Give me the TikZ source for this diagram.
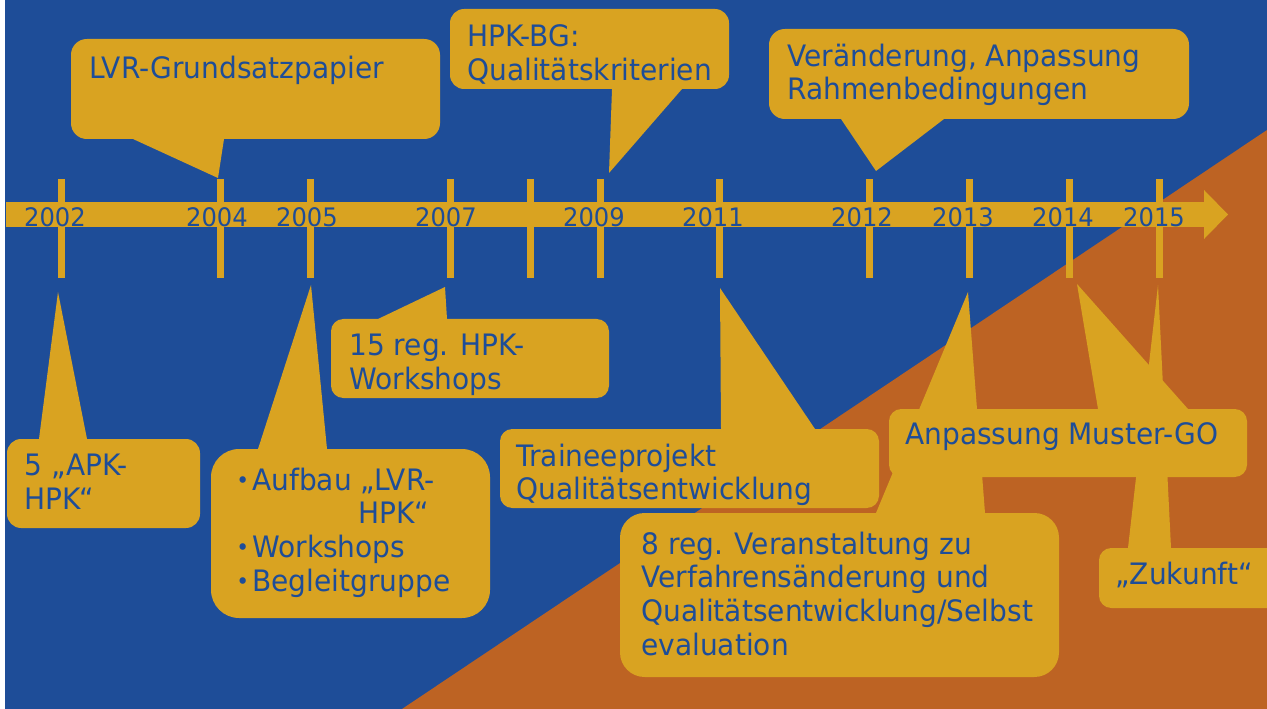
\documentclass[tikz,border=0pt]{standalone}
\usepackage{fontspec}
\setmainfont[FakeStretch=0.95]{DejaVu Sans}
\definecolor{lvrblue}{RGB}{30,77,152}
\definecolor{gold}{RGB}{217,163,33}
\definecolor{rust}{RGB}{189,99,35}
\newcommand{\callfont}{\fontsize{16.8}{19.2}\selectfont}
\newcommand{\yearfont}{\fontsize{14.5}{17}\selectfont}
\newcommand{\bul}{\makebox[9.1pt][l]{\raisebox{1pt}{\fontsize{13}{13}\selectfont •}}}
\begin{document}
\begin{tikzpicture}[x=0.02cm,y=-0.02cm, line join=round,
	txt/.style={font=\callfont, text=lvrblue, align=left, inner sep=0pt, anchor=north west, yshift=13.4pt},
	year/.style={font=\yearfont, text=lvrblue, anchor=base, inner sep=0pt}]
	\useasboundingbox (0,0) rectangle (1267,709);
	\clip (0,0) rectangle (1267,709);
	% background
	\fill[lvrblue] (0,0) rectangle (1267,709);
	\fill[rust] (402,709) -- (1267,130) -- (1267,709) -- cycle;
	\fill[white] (0,0) rectangle (5,709);
	% timeline
	\fill[gold] (6,202) rectangle (1204,227);
	\fill[gold] (1204,190) -- (1228,214.5) -- (1204,239) -- cycle;
	\foreach \x in {61,220,310,450,530,600,719,869,969,1069,1159}{
		\fill[gold] (\x-3.5,179) rectangle (\x+3.5,278);}
	\foreach \x/\yr in {55/2002,217/2004,307/2005,446/2007,594/2009,713/2011,862/2012,963/2013,1063/2014,1154/2015}{
		\node[year] (y\yr) at (\x,227) {\yr};}
	% callouts above
	\fill[gold,rounded corners=9pt] (71,39) rectangle (440,139);
	\fill[gold] (133,139) -- (218,178) -- (224,139) -- cycle;
	\fill[gold,rounded corners=8pt] (450,9) rectangle (729,89);
	\fill[gold] (612,89) -- (609,173) -- (682,89) -- cycle;
	\fill[gold,rounded corners=9pt] (769,29) rectangle (1189,119);
	\fill[gold] (841,119) -- (876,171) -- (944,119) -- cycle;
	% callouts below
	\fill[gold,rounded corners=8pt] (7,439) rectangle (200,528);
	\fill[gold] (39,439) -- (58,292) -- (87,439) -- cycle;
	\fill[gold,rounded corners=16pt] (211,449) rectangle (490,618);
	\fill[gold] (258,449) -- (311,285) -- (327,449) -- cycle;
	\fill[gold,rounded corners=7pt] (331,319) rectangle (609,398);
	\fill[gold] (378,319) -- (445,287) -- (447,319) -- cycle;
	\fill[gold,rounded corners=7pt] (500,429) rectangle (879,508);
	\fill[gold] (721,429) -- (720,288) -- (815,429) -- cycle;
	\fill[gold,rounded corners=14pt] (620,513) rectangle (1059,677);
	\fill[gold] (876,513) -- (968,292) -- (985,513) -- cycle;
	\fill[gold,rounded corners=7pt] (1099,548) rectangle (1300,608);
	\fill[gold] (1128,548) -- (1158,285) -- (1171,548) -- cycle;
	\fill[gold,rounded corners=7pt] (889,409) rectangle (1247,477);
	\fill[gold] (1098,409) -- (1077,284) -- (1188,409) -- cycle;
	% texts
	\node[txt] (grund) at (89,79) {LVR-Grundsatzpapier};
	\node[txt] (krit) at (467,48) {HPK-BG:\\Qualitätskriterien};
	\node[txt] (rahmen) at (787,67) {Veränderung, Anpassung\\Rahmenbedingungen};
	\node[txt] (apk) at (24,477) {5 „APK-\\HPK“};
	\node[txt] (aufbau) at (236,491) {\bul Aufbau „LVR-\\\hspace*{69.7pt}HPK“\\\bul Workshops\\\bul Begleitgruppe};
	\node[txt] (work) at (349,357) {15 reg. HPK-\\Workshops};
	\node[txt] (trainee) at (516,467) {Traineeprojekt\\Qualitätsentwicklung};
	\node[txt] (muster) at (905,446) {Anpassung Muster-GO};
	\node[txt] (verfahren) at (641,555) {8 reg. Veranstaltung zu\\Verfahrensänderung und\\Qualitätsentwicklung/Selbst\\evaluation};
	\node[txt] (zukunft) at (1115,585) {„Zukunft“};
\end{tikzpicture}
\end{document}
